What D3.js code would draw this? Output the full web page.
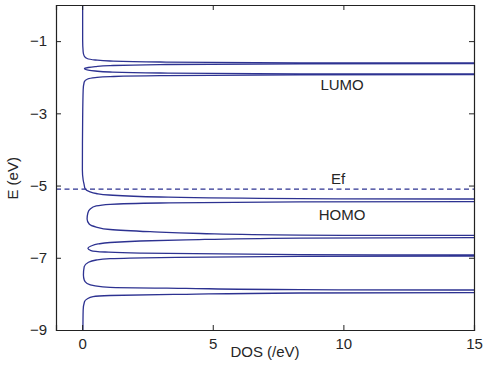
<!DOCTYPE html>
<html>
<head>
<meta charset="utf-8">
<script src="https://cdn.jsdelivr.net/npm/d3@7"></script>
<style>
  body { margin: 0; background: #fff; }
  svg text { font-family: "Liberation Sans", Arial, sans-serif; fill: #262626; }
</style>
</head>
<body>
<svg id="chart"></svg>
<script>
// DOS trace, top (E = 0) to bottom (E = -9)
var energy = [
  0.000, -0.969, -1.302, -1.412, -1.482, -1.523, -1.551, -1.579, -1.601, -1.614,
  -1.628, -1.650, -1.678, -1.706, -1.731, -1.767, -1.803, -1.828, -1.856, -1.883,
  -1.905, -1.919, -1.933, -1.955, -1.983, -2.010, -2.049, -2.132, -2.354, -3.185,
  -4.569, -4.846, -4.985, -5.082, -5.170, -5.220, -5.262, -5.317, -5.361, -5.408,
  -5.453, -5.483, -5.519, -5.566, -5.649, -5.760, -5.926, -6.065, -6.148, -6.217,
  -6.278, -6.328, -6.370, -6.411, -6.453, -6.503, -6.535, -6.577, -6.618, -6.674,
  -6.738, -6.799, -6.840, -6.873, -6.912, -6.937, -6.962, -6.995, -7.026, -7.062,
  -7.131, -7.248, -7.477, -7.615, -7.712, -7.776, -7.817, -7.848, -7.881, -7.928,
  -7.975, -8.011, -8.045, -8.078, -8.142, -8.216, -8.446, -9.000
];
var dos = [
  0.02, 0.02, 0.04, 0.08, 0.19, 0.50, 1.07, 2.99, 8.34, 40,
  8.34, 2.99, 1.07, 0.50, 0.23, 0.09, 0.23, 0.50, 1.07, 2.99,
  8.34, 40, 8.34, 2.99, 1.07, 0.50, 0.21, 0.08, 0.04, 0.02,
  0.01, 0.04, 0.08, 0.11, 0.28, 0.54, 1.03, 2.99, 8.34, 40,
  8.34, 2.99, 1.07, 0.54, 0.31, 0.22, 0.19, 0.27, 0.54, 1.07,
  2.60, 4.52, 8.34, 40, 8.34, 3.98, 2.22, 1.07, 0.61, 0.34,
  0.22, 0.34, 0.88, 2.22, 8.34, 40, 8.34, 2.99, 1.07, 0.54,
  0.23, 0.08, 0.05, 0.08, 0.19, 0.50, 1.07, 3.98, 8.34, 40,
  8.34, 3.98, 1.07, 0.42, 0.19, 0.09, 0.04, 0.03
];
var fermiLevel = -5.1;
var xTicks = [0, 5, 10, 15];
var yTicks = [-1, -3, -5, -7, -9];
var levelNames = ['LUMO', 'Ef', 'HOMO'];
var levelEnergies = [-2.35, -4.96, -5.95];

var dosPlot = {
  margin: { top: 5, right: 18, bottom: 44, left: 56 },
  selector: '#chart',
  lineColor: '#2d3291',

  init: function() {
    var self = this;
    self.width = 492 - self.margin.left - self.margin.right;
    self.height = 374 - self.margin.top - self.margin.bottom;

    self.svg = d3.select(self.selector)
      .attr('width', 492)
      .attr('height', 374);

    self.x = d3.scaleLinear().domain([-1, 15]).range([0, self.width]);
    self.y = d3.scaleLinear().domain([-9, 0]).range([self.height, 0]);

    self.g = self.svg.append('g')
      .attr('transform', 'translate(' + self.margin.left + ',' + self.margin.top + ')');

    self.g.append('clipPath').attr('id', 'plotClip')
      .append('rect')
      .attr('width', self.width)
      .attr('height', self.height);

    self.drawCurve();
    self.drawAxes();
    self.drawLabels();
  },

  drawCurve: function() {
    var self = this;
    var pts = energy.map(function(e, i) { return [dos[i], e]; });

    var line = d3.line()
      .x(function(d) { return self.x(d[0]); })
      .y(function(d) { return self.y(d[1]); })
      .curve(d3.curveMonotoneY);

    var plot = self.g.append('g').attr('clip-path', 'url(#plotClip)');

    plot.append('path')
      .datum(pts)
      .attr('fill', 'none')
      .attr('stroke', self.lineColor)
      .attr('stroke-width', 1.3)
      .attr('d', line);

    // Fermi level
    plot.append('line')
      .attr('x1', self.x(-1))
      .attr('x2', self.x(15))
      .attr('y1', self.y(fermiLevel))
      .attr('y2', self.y(fermiLevel))
      .attr('stroke', self.lineColor)
      .attr('stroke-width', 1.3)
      .attr('stroke-dasharray', '5,3.5');
  },

  drawAxes: function() {
    var self = this;
    var tick = 5;

    var bottom = self.g.append('g')
      .attr('transform', 'translate(0,' + self.height + ')')
      .call(d3.axisBottom(self.x).tickValues(xTicks).tickSize(-tick).tickPadding(8));
    var top = self.g.append('g')
      .call(d3.axisTop(self.x).tickValues(xTicks).tickSize(-tick).tickFormat(''));
    var left = self.g.append('g')
      .call(d3.axisLeft(self.y).tickValues(yTicks).tickSize(-tick).tickPadding(9));
    var right = self.g.append('g')
      .attr('transform', 'translate(' + self.width + ',0)')
      .call(d3.axisRight(self.y).tickValues(yTicks).tickSize(-tick).tickFormat(''));

    [bottom, top, left, right].forEach(function(a) {
      a.select('.domain').attr('stroke', '#222').attr('stroke-width', 1.2);
      a.selectAll('.tick line').attr('stroke', '#222');
      a.selectAll('.tick text')
        .style('font-family', '"Liberation Sans", Arial, sans-serif')
        .style('font-size', '15px')
        .attr('fill', '#262626');
    });

    self.g.append('text')
      .attr('x', self.x(7))
      .attr('y', self.height + 27)
      .attr('text-anchor', 'middle')
      .style('font-size', '15px')
      .text('DOS (/eV)');

    self.g.append('text')
      .attr('transform', 'translate(' + (-38) + ',' + self.y(-4.8) + ') rotate(-90)')
      .attr('text-anchor', 'middle')
      .style('font-size', '15px')
      .text('E (eV)');
  },

  drawLabels: function() {
    var self = this;
    self.g.selectAll('.level-label')
      .data(levelNames)
      .enter().append('text')
      .attr('class', 'level-label')
      .attr('x', function(d, i) { return self.x(i === 1 ? 9.8 : 9.95); })
      .attr('y', function(d, i) { return self.y(levelEnergies[i]); })
      .attr('text-anchor', 'middle')
      .style('font-size', '15px')
      .text(function(d) { return d; });
  }
};

dosPlot.init();
</script>
</body>
</html>
